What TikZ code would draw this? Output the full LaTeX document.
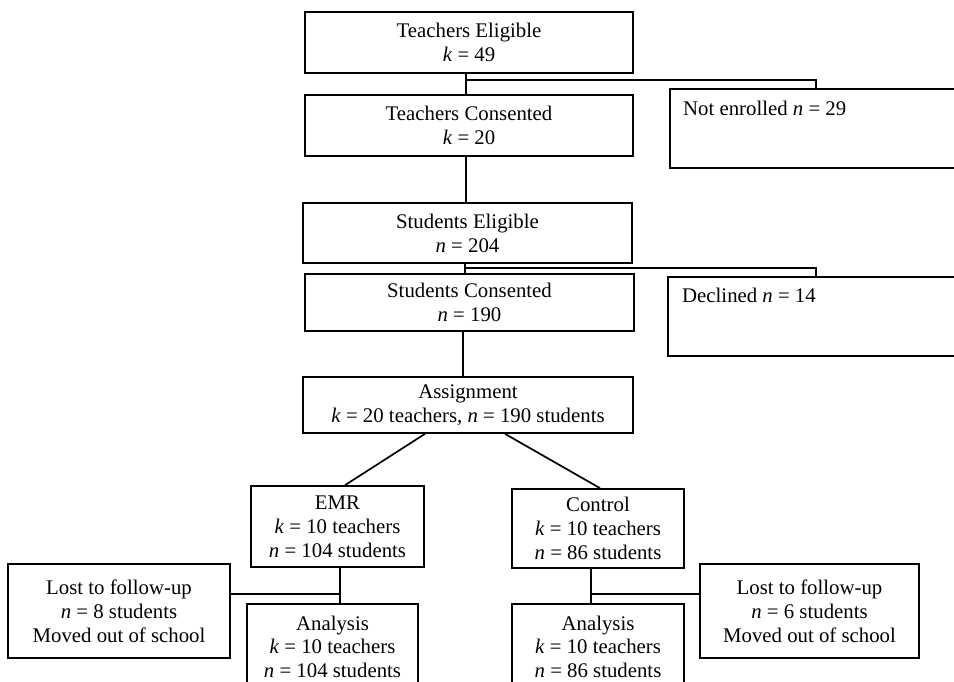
\documentclass[tikz,border=0pt]{standalone}
\usepackage{fontspec}
\setmainfont{Liberation Serif}
\begin{document}
\begin{tikzpicture}[x=1pt,y=-1pt,
  box/.style={draw, line width=1.7pt, inner sep=0pt, align=center},
  fnt/.style={font=\fontsize{20.8}{24}\selectfont},
  anf/.style={font=\fontsize{20.8}{23.5}\selectfont},
  txt/.style={inner sep=0pt, align=center},
  link/.style={line width=1.7pt}]
\useasboundingbox (0,0) rectangle (954,681);
\clip (0,0) rectangle (954,681);
% top part
\node[box,fnt,minimum width=328pt,minimum height=61pt] (te) at (469,42.5) {Teachers Eligible\\\textit{k} = 49};
\node[box,fnt,minimum width=328pt,minimum height=61pt] (tc) at (469,125.5) {Teachers Consented\\\textit{k} = 20};
\node[box,minimum width=330pt,minimum height=79pt] (ne) at (835,128.5) {};
\node[txt,fnt,anchor=base west] (net) at (683,115) {Not enrolled \textit{n} = 29};
\node[box,fnt,minimum width=329pt,minimum height=60pt] (se) at (467.5,233) {Students Eligible\\\textit{n} = 204};
\node[box,fnt,minimum width=329pt,minimum height=57pt] (sc) at (469.5,302.5) {Students Consented\\\textit{n} = 190};
\node[box,minimum width=332pt,minimum height=79pt] (de) at (834,316.5) {};
\node[txt,fnt,anchor=base west] (det) at (682,302) {Declined \textit{n} = 14};
\node[box,fnt,minimum width=330pt,minimum height=56pt] (as) at (468,405) {Assignment\\\textit{k} = 20 teachers, \textit{n} = 190 students};
% bottom part
\node[box,fnt,minimum width=173pt,minimum height=81pt] (emr) at (337.5,526.5) {EMR\\\textit{k} = 10 teachers\\\textit{n} = 104 students};
\node[box,fnt,minimum width=172pt,minimum height=79pt] (ct) at (598,528.5) {Control\\\textit{k} = 10 teachers\\\textit{n} = 86 students};
\node[box,fnt,minimum width=222pt,minimum height=94pt] (ll) at (119,611) {Lost to follow-up\\\textit{n} = 8 students\\Moved out of school};
\node[box,fnt,minimum width=219pt,minimum height=94pt] (lr) at (809.5,611) {Lost to follow-up\\\textit{n} = 6 students\\Moved out of school};
\node[box,minimum width=171pt,minimum height=116pt] (al) at (332.5,662) {};
\node[txt,anf,anchor=north] (alt) at (332.5,615.5) {Analysis\\\textit{k} = 10 teachers\\\textit{n} = 104 students};
\node[box,minimum width=172pt,minimum height=116pt] (ar) at (598,662) {};
\node[txt,anf,anchor=north] (art) at (598,615.5) {Analysis\\\textit{k} = 10 teachers\\\textit{n} = 86 students};
% connectors
\coordinate (tj) at ([xshift=-3pt]te.south);
\draw[link] (tj) -- (tj |- tc.north);
\draw[link] (tj |- 0,80) -| ([xshift=147pt]ne.north west);
\coordinate (tk) at ([xshift=-3pt]tc.south);
\draw[link] (tk) -- (tk |- se.north);
\coordinate (sj) at ([xshift=-2.5pt]se.south);
\draw[link] (sj) -- (sj |- sc.north);
\draw[link] (sj |- 0,268) -| ([xshift=149pt]de.north west);
\coordinate (sk) at ([xshift=-6.5pt]sc.south);
\draw[link] (sk) -- (sk |- as.north);
\draw[link] ([xshift=-43pt]as.south) -- ([xshift=7.5pt]emr.north);
\draw[link] ([xshift=37pt]as.south) -- ([xshift=2pt]ct.north);
\coordinate (ej) at ([xshift=2.5pt]emr.south);
\draw[link] (ej) -- (ej |- al.north);
\draw[link] (ll.east |- 0,594) -- (ej |- 0,594);
\coordinate (cj) at ([xshift=-7pt]ct.south);
\draw[link] (cj) -- (cj |- ar.north);
\draw[link] (cj |- 0,594) -- (lr.west |- 0,594);
\end{tikzpicture}
\end{document}
